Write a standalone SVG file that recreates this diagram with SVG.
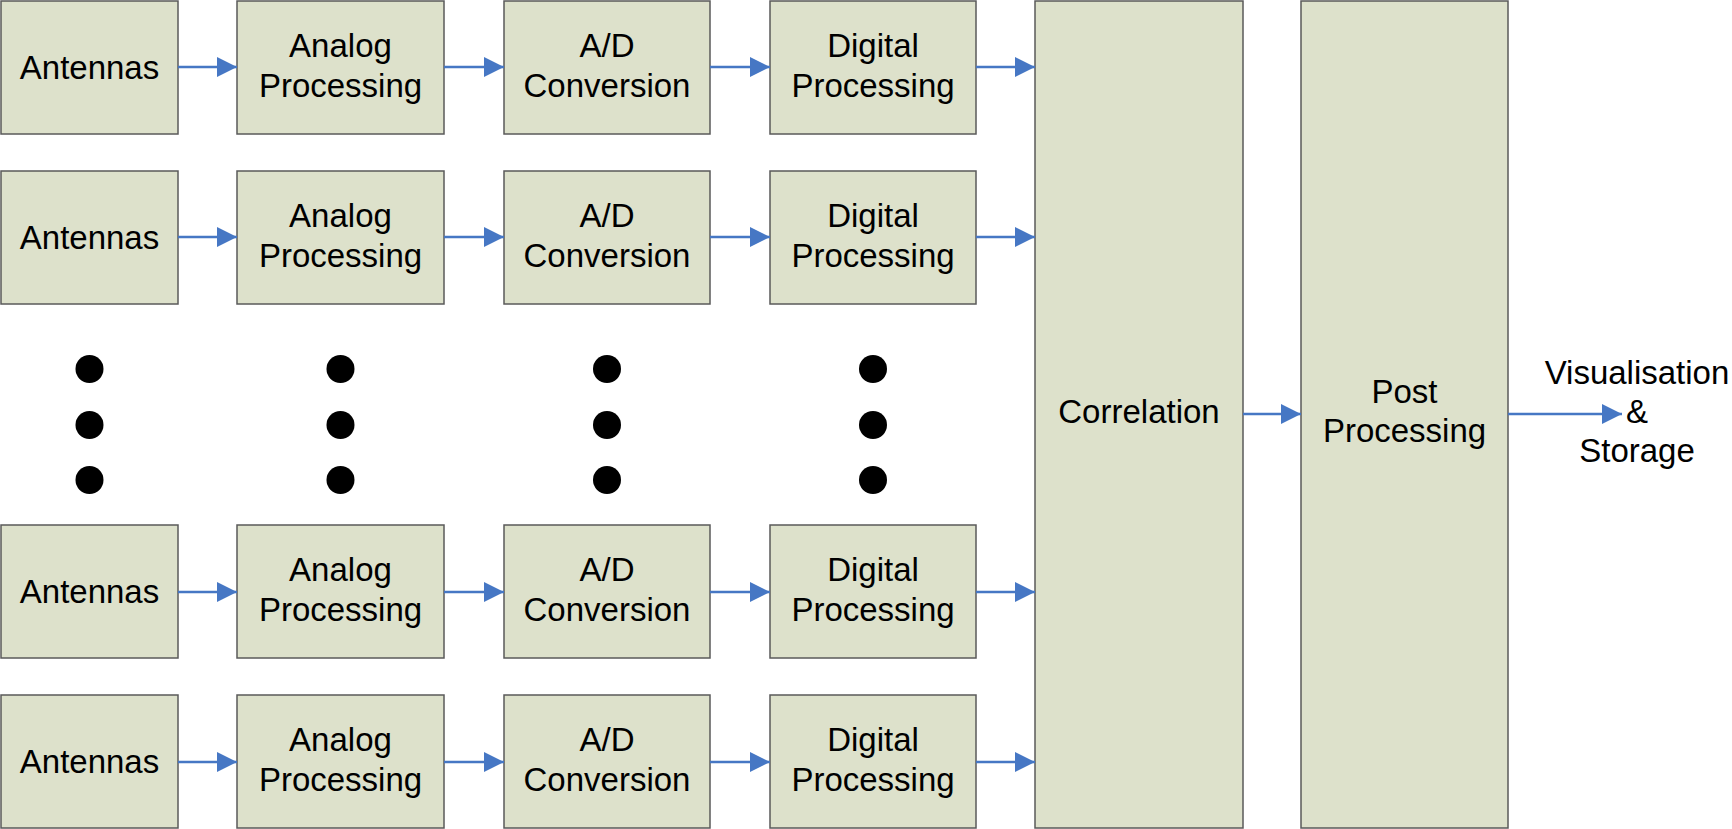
<svg xmlns="http://www.w3.org/2000/svg" width="1732" height="829" viewBox="0 0 1732 829">
<style>
.box{fill:#DDE1CB;stroke:#5a5a5a;stroke-width:1.5}
.t{font-family:"Liberation Sans",Arial,sans-serif;font-size:33px;fill:#000;text-anchor:middle}
.c{stroke:#4677C4;stroke-width:2.4;fill:none;marker-end:url(#ah)}
.dot{fill:#000}
</style>
<defs>
<marker id="ah" markerUnits="userSpaceOnUse" markerWidth="22" markerHeight="22" refX="20" refY="10" orient="auto">
<path d="M0,0 L20,10 L0,20 Z" fill="#4677C4"/>
</marker>
</defs>
<rect width="1732" height="829" fill="#fff"/>
<g id="row1">
<g id="ant1"><rect class="box" x="1" y="1" width="177" height="133"/><text class="t" x="89.5" y="79">Antennas</text></g>
<g id="ana1"><rect class="box" x="237" y="1" width="207" height="133"/><text class="t" x="340.5" y="57">Analog</text><text class="t" x="340.5" y="97">Processing</text></g>
<g id="ad1"><rect class="box" x="504" y="1" width="206" height="133"/><text class="t" x="607" y="57">A/D</text><text class="t" x="607" y="97">Conversion</text></g>
<g id="dig1"><rect class="box" x="770" y="1" width="206" height="133"/><text class="t" x="873" y="57">Digital</text><text class="t" x="873" y="97">Processing</text></g>
</g>
<g id="row2">
<g id="ant2"><rect class="box" x="1" y="171" width="177" height="133"/><text class="t" x="89.5" y="249">Antennas</text></g>
<g id="ana2"><rect class="box" x="237" y="171" width="207" height="133"/><text class="t" x="340.5" y="227">Analog</text><text class="t" x="340.5" y="267">Processing</text></g>
<g id="ad2"><rect class="box" x="504" y="171" width="206" height="133"/><text class="t" x="607" y="227">A/D</text><text class="t" x="607" y="267">Conversion</text></g>
<g id="dig2"><rect class="box" x="770" y="171" width="206" height="133"/><text class="t" x="873" y="227">Digital</text><text class="t" x="873" y="267">Processing</text></g>
</g>
<g id="row3">
<g id="ant3"><rect class="box" x="1" y="525" width="177" height="133"/><text class="t" x="89.5" y="603">Antennas</text></g>
<g id="ana3"><rect class="box" x="237" y="525" width="207" height="133"/><text class="t" x="340.5" y="581">Analog</text><text class="t" x="340.5" y="621">Processing</text></g>
<g id="ad3"><rect class="box" x="504" y="525" width="206" height="133"/><text class="t" x="607" y="581">A/D</text><text class="t" x="607" y="621">Conversion</text></g>
<g id="dig3"><rect class="box" x="770" y="525" width="206" height="133"/><text class="t" x="873" y="581">Digital</text><text class="t" x="873" y="621">Processing</text></g>
</g>
<g id="row4">
<g id="ant4"><rect class="box" x="1" y="695" width="177" height="133"/><text class="t" x="89.5" y="773">Antennas</text></g>
<g id="ana4"><rect class="box" x="237" y="695" width="207" height="133"/><text class="t" x="340.5" y="751">Analog</text><text class="t" x="340.5" y="791">Processing</text></g>
<g id="ad4"><rect class="box" x="504" y="695" width="206" height="133"/><text class="t" x="607" y="751">A/D</text><text class="t" x="607" y="791">Conversion</text></g>
<g id="dig4"><rect class="box" x="770" y="695" width="206" height="133"/><text class="t" x="873" y="751">Digital</text><text class="t" x="873" y="791">Processing</text></g>
</g>
<g id="correlation"><rect class="box" x="1035" y="1" width="208" height="827"/><text class="t" x="1139" y="423">Correlation</text></g>
<g id="post"><rect class="box" x="1301" y="1" width="207" height="827"/><text class="t" x="1404.5" y="403">Post</text><text class="t" x="1404.5" y="442">Processing</text></g>
<g id="output"><text class="t" x="1637" y="384">Visualisation</text><text class="t" x="1637" y="423">&amp;</text><text class="t" x="1637" y="462">Storage</text></g>
<g id="dots">
<circle class="dot" cx="89.5" cy="369" r="14"/><circle class="dot" cx="89.5" cy="425" r="14"/><circle class="dot" cx="89.5" cy="480" r="14"/>
<circle class="dot" cx="340.5" cy="369" r="14"/><circle class="dot" cx="340.5" cy="425" r="14"/><circle class="dot" cx="340.5" cy="480" r="14"/>
<circle class="dot" cx="607" cy="369" r="14"/><circle class="dot" cx="607" cy="425" r="14"/><circle class="dot" cx="607" cy="480" r="14"/>
<circle class="dot" cx="873" cy="369" r="14"/><circle class="dot" cx="873" cy="425" r="14"/><circle class="dot" cx="873" cy="480" r="14"/>
</g>
<g id="connectors">
<line class="c" x1="178" y1="67" x2="237" y2="67"/><line class="c" x1="444" y1="67" x2="504" y2="67"/><line class="c" x1="710" y1="67" x2="770" y2="67"/><line class="c" x1="976" y1="67" x2="1035" y2="67"/>
<line class="c" x1="178" y1="237" x2="237" y2="237"/><line class="c" x1="444" y1="237" x2="504" y2="237"/><line class="c" x1="710" y1="237" x2="770" y2="237"/><line class="c" x1="976" y1="237" x2="1035" y2="237"/>
<line class="c" x1="178" y1="592" x2="237" y2="592"/><line class="c" x1="444" y1="592" x2="504" y2="592"/><line class="c" x1="710" y1="592" x2="770" y2="592"/><line class="c" x1="976" y1="592" x2="1035" y2="592"/>
<line class="c" x1="178" y1="762" x2="237" y2="762"/><line class="c" x1="444" y1="762" x2="504" y2="762"/><line class="c" x1="710" y1="762" x2="770" y2="762"/><line class="c" x1="976" y1="762" x2="1035" y2="762"/>
<line class="c" x1="1243" y1="414" x2="1301" y2="414"/>
<line class="c" x1="1508" y1="414" x2="1622" y2="414"/>
</g>
</svg>
